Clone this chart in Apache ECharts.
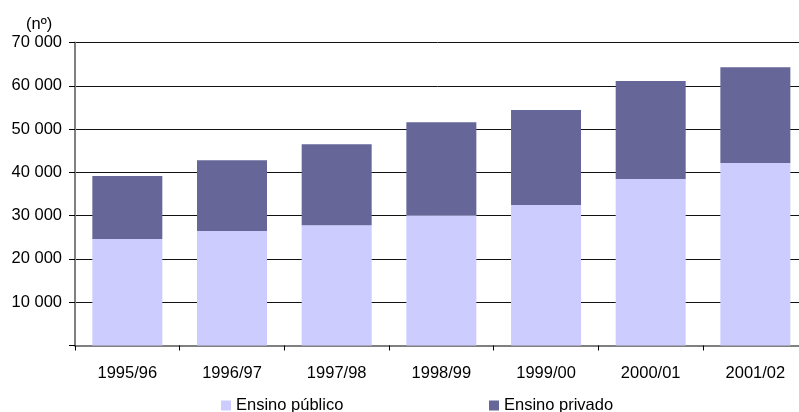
<!DOCTYPE html>
<html>
<head>
<meta charset="utf-8">
<script src="https://cdn.jsdelivr.net/npm/echarts@6/dist/echarts.min.js"></script>
<style>
  html, body { margin: 0; padding: 0; background: #fff; }
  #chart { width: 799px; height: 412px; }
</style>
</head>
<body>
<div id="chart"></div>
<script>
// School years
const categories = ['1995/96', '1996/97', '1997/98', '1998/99', '1999/00', '2000/01', '2001/02'];
// Students enrolled (nº)
const ensinoPublico = [24600, 26450, 27800, 30100, 32450, 38450, 42150];
const ensinoPrivado = [14550, 16350, 18700, 21500, 21950, 22650, 22150];
const yTicks = [0, 10000, 20000, 30000, 40000, 50000, 60000, 70000];

const FONT = '"Liberation Sans", Arial, sans-serif';
const FS = 16.5;

function fmt(v) {
  if (v === 0) return '';
  return String(v).replace(/\B(?=(\d{3})+(?!\d))/g, ' ');
}

const chart = echarts.init(document.getElementById('chart'), null, { renderer: 'canvas' });

chart.setOption({
  animation: false,
  backgroundColor: '#ffffff',
  textStyle: { fontFamily: FONT, color: '#000' },
  title: {
    text: '(nº)',
    left: 21,
    top: 11,
    textStyle: { fontFamily: FONT, fontSize: FS, fontWeight: 'normal', color: '#000' }
  },
  legend: [
    {
      data: ['Ensino público'],
      left: 221, top: 397,
      icon: 'rect', itemWidth: 10, itemHeight: 10, itemGap: 4,
      padding: 0,
      textStyle: { fontFamily: FONT, fontSize: FS, color: '#000' }
    },
    {
      data: ['Ensino privado'],
      left: 489, top: 397,
      icon: 'rect', itemWidth: 10, itemHeight: 10, itemGap: 4,
      padding: 0,
      textStyle: { fontFamily: FONT, fontSize: FS, color: '#000' }
    }
  ],
  grid: {
    left: 75, top: 42.5, width: 732.7, height: 303,
    outerBoundsMode: 'none',
    containLabel: false
  },
  xAxis: {
    type: 'category',
    data: categories,
    boundaryGap: true,
    axisLine: { show: true, lineStyle: { color: '#808080', width: 2 } },
    axisTick: { show: true, inside: false, length: 5, alignWithLabel: false, lineStyle: { color: '#000', width: 1 } },
    axisLabel: { margin: 19, fontFamily: FONT, fontSize: FS, color: '#000' },
    splitLine: { show: false }
  },
  yAxis: {
    type: 'value',
    min: 0, max: 70000, interval: 10000,
    axisLine: { show: true, lineStyle: { color: '#808080', width: 2 } },
    axisTick: { show: true, inside: false, length: 6, lineStyle: { color: '#000', width: 1 } },
    axisLabel: {
      margin: 13, fontFamily: FONT, fontSize: FS, color: '#000',
      formatter: v => yTicks.includes(v) ? fmt(v) : ''
    },
    splitLine: { show: true, lineStyle: { color: '#111', width: 1 } }
  },
  series: [
    {
      name: 'Ensino público',
      type: 'bar',
      stack: 'total',
      data: ensinoPublico,
      barWidth: 70,
      itemStyle: { color: '#CCCCFF' }
    },
    {
      name: 'Ensino privado',
      type: 'bar',
      stack: 'total',
      data: ensinoPrivado,
      barWidth: 70,
      itemStyle: { color: '#666699' }
    }
  ]
});
</script>
</body>
</html>
